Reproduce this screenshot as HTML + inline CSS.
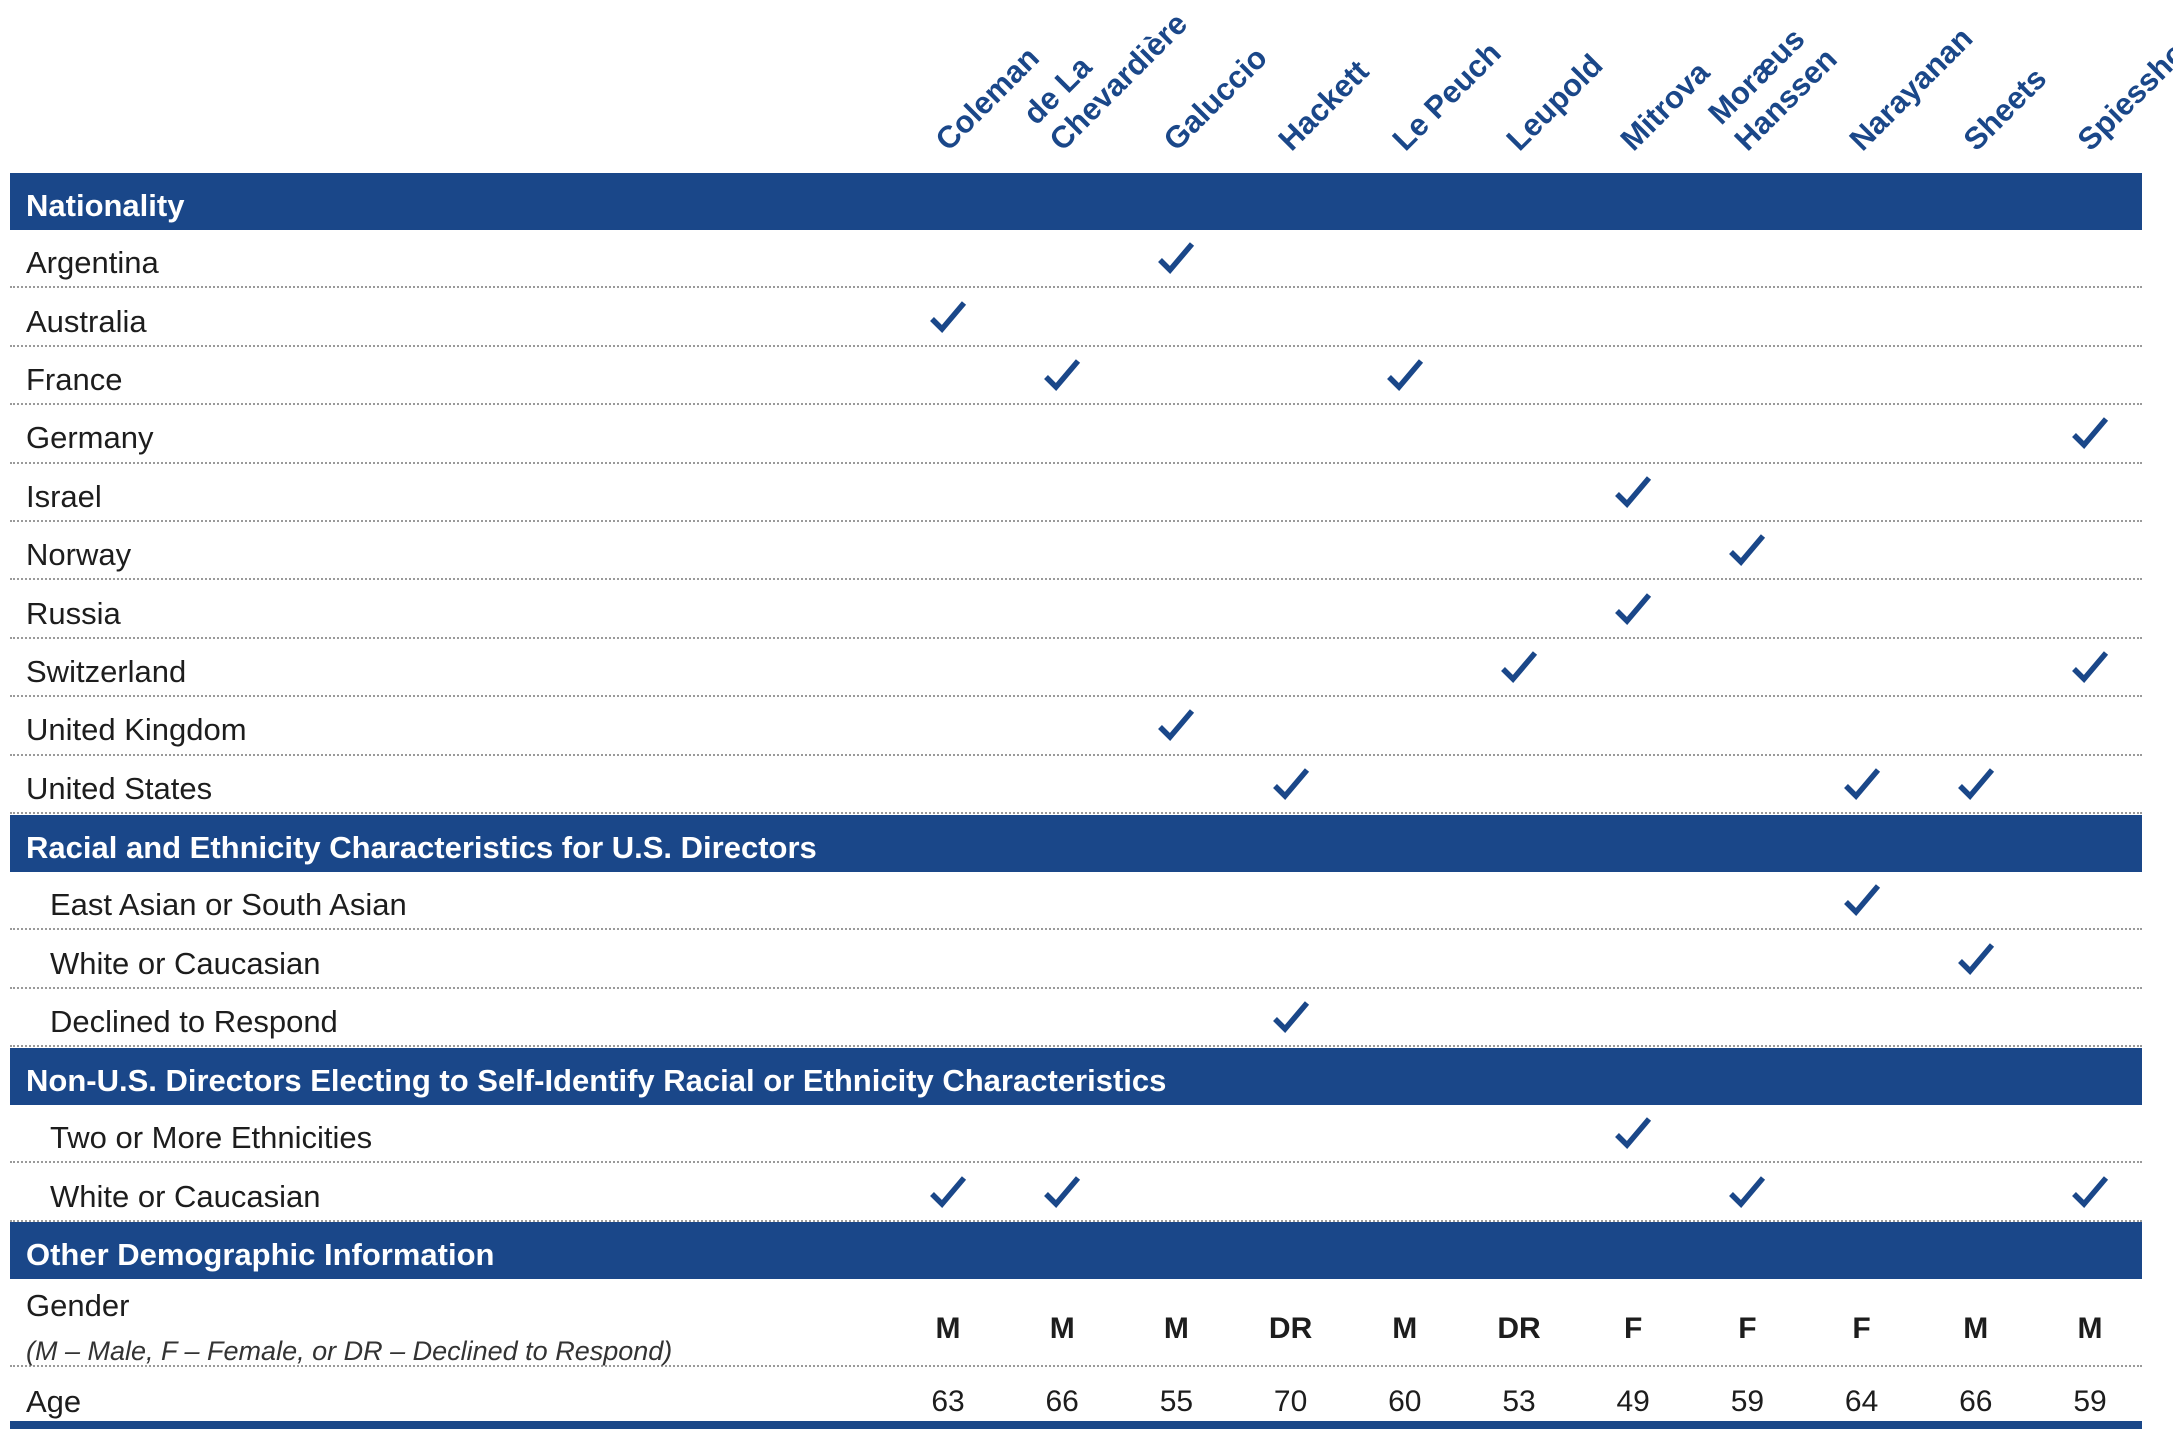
<!DOCTYPE html>
<html><head><meta charset="utf-8">
<style>
body{margin:0;background:#fff;}
#root{position:relative;width:2173px;height:1429px;overflow:hidden;font-family:"Liberation Sans",sans-serif;color:#1d1d1d;}
.bar{position:absolute;left:10px;width:2132px;background:#1a4789;color:#fff;font-size:31px;font-weight:bold;box-sizing:border-box;padding-left:16px;padding-top:8px;display:flex;align-items:center;}
.row{position:absolute;left:10px;width:2132px;border-bottom:2px dotted #9a9a9a;box-sizing:border-box;}
.lbl{position:absolute;font-size:31px;white-space:nowrap;}
.name{position:absolute;color:#1a4789;font-size:31px;font-weight:bold;line-height:37px;white-space:nowrap;transform-origin:0 100%;transform:rotate(-45deg);}
.chk{position:absolute;}
.val{position:absolute;width:80px;text-align:center;font-size:30px;}
</style></head>
<body>
<div id="root"></div>
<script>
const directors=["Coleman","de La\nChevardière","Galuccio","Hackett","Le Peuch","Leupold","Mitrova","Moræus\nHanssen","Narayanan","Sheets","Spiesshofer"];
const nationalities=["Argentina","Australia","France","Germany","Israel","Norway","Russia","Switzerland","United Kingdom","United States"];
const nationalityChecks=[[2],[0],[1,4],[10],[6],[7],[6],[5,10],[2],[3,8,9]];
const racialCats=["East Asian or South Asian","White or Caucasian","Declined to Respond"];
const racialChecks=[[8],[9],[3]];
const nonUsCats=["Two or More Ethnicities","White or Caucasian"];
const nonUsChecks=[[6],[0,1,7,10]];
const genders=["M","M","M","DR","M","DR","F","F","F","M","M"];
const ages=[63,66,55,70,60,53,49,59,64,66,59];

const root=document.getElementById('root');
const colX=i=>948+i*114.2;
const RH=58.4;
function add(tag,cls,style,text){const e=document.createElement(tag);if(cls)e.className=cls;Object.assign(e.style,style);if(text!==undefined)e.textContent=text;root.appendChild(e);return e;}

directors.forEach((d,i)=>{
  const lines=d.split("\n");
  const h=lines.length*37;
  const e=add('div','name',{left:(colX(i)+6)+'px',top:(158-h)+'px',height:h+'px'});
  e.innerHTML=lines.join('<br>');
  
  
});

function bar(y,h,text,name){const b=add('div','bar',{top:y+'px',height:h+'px'},text);
  
  }
function check(i,cy,name){
  const s=document.createElementNS('http://www.w3.org/2000/svg','svg');
  s.setAttribute('width','38');s.setAttribute('height','34');
  s.setAttribute('class','chk');
  s.style.left=(colX(i)-19)+'px';s.style.top=(cy-17)+'px';
  s.innerHTML='<path d="M3 19 L13 29 L35 3" fill="none" stroke="#1a4789" stroke-width="5.5" stroke-linejoin="miter"/>';
  
  
  root.appendChild(s);}
function rows(y0,cats,checks,indent,prefix){
  cats.forEach((c,r)=>{
    const y=y0+r*RH;
    const row=add('div','row',{top:y+'px',height:RH+'px'});
    
    
    const l=add('div','lbl',{left:indent+'px',top:(y+RH/2-14)+'px'},c);
    
    
    checks[r].forEach(i=>check(i,y+RH/2-1,prefix+'-check-'+r+'-'+i));
  });
}
bar(173,57,'Nationality','nationality-header');
rows(230,nationalities,nationalityChecks,26,'nationality');
bar(815,57,'Racial and Ethnicity Characteristics for U.S. Directors','racial-header');
rows(872,racialCats,racialChecks,50,'racial');
bar(1048,57,'Non-U.S. Directors Electing to Self-Identify Racial or Ethnicity Characteristics','non-us-header');
rows(1105,nonUsCats,nonUsChecks,50,'non-us');
bar(1222,57,'Other Demographic Information','other-header');

const g=add('div','row',{top:'1279px',height:'88px'});


const gl=add('div','lbl',{left:'26px',top:'1288px'},'Gender');


const gs=add('div','lbl',{left:'26px',top:'1336px',fontSize:'27px',fontStyle:'italic',color:'#333'},'(M – Male, F – Female, or DR – Declined to Respond)');


genders.forEach((v,i)=>{const e=add('div','val',{left:(colX(i)-40)+'px',top:'1312px',fontWeight:'bold'},v);
  
  });
const al=add('div','lbl',{left:'26px',top:'1384px'},'Age');


ages.forEach((v,i)=>{const e=add('div','val',{left:(colX(i)-40)+'px',top:'1385px'},String(v));
  
  });
const bb=add('div','',{position:'absolute',left:'10px',width:'2132px',top:'1421px',height:'8px',background:'#1a4789'});


</script>
</body></html>
